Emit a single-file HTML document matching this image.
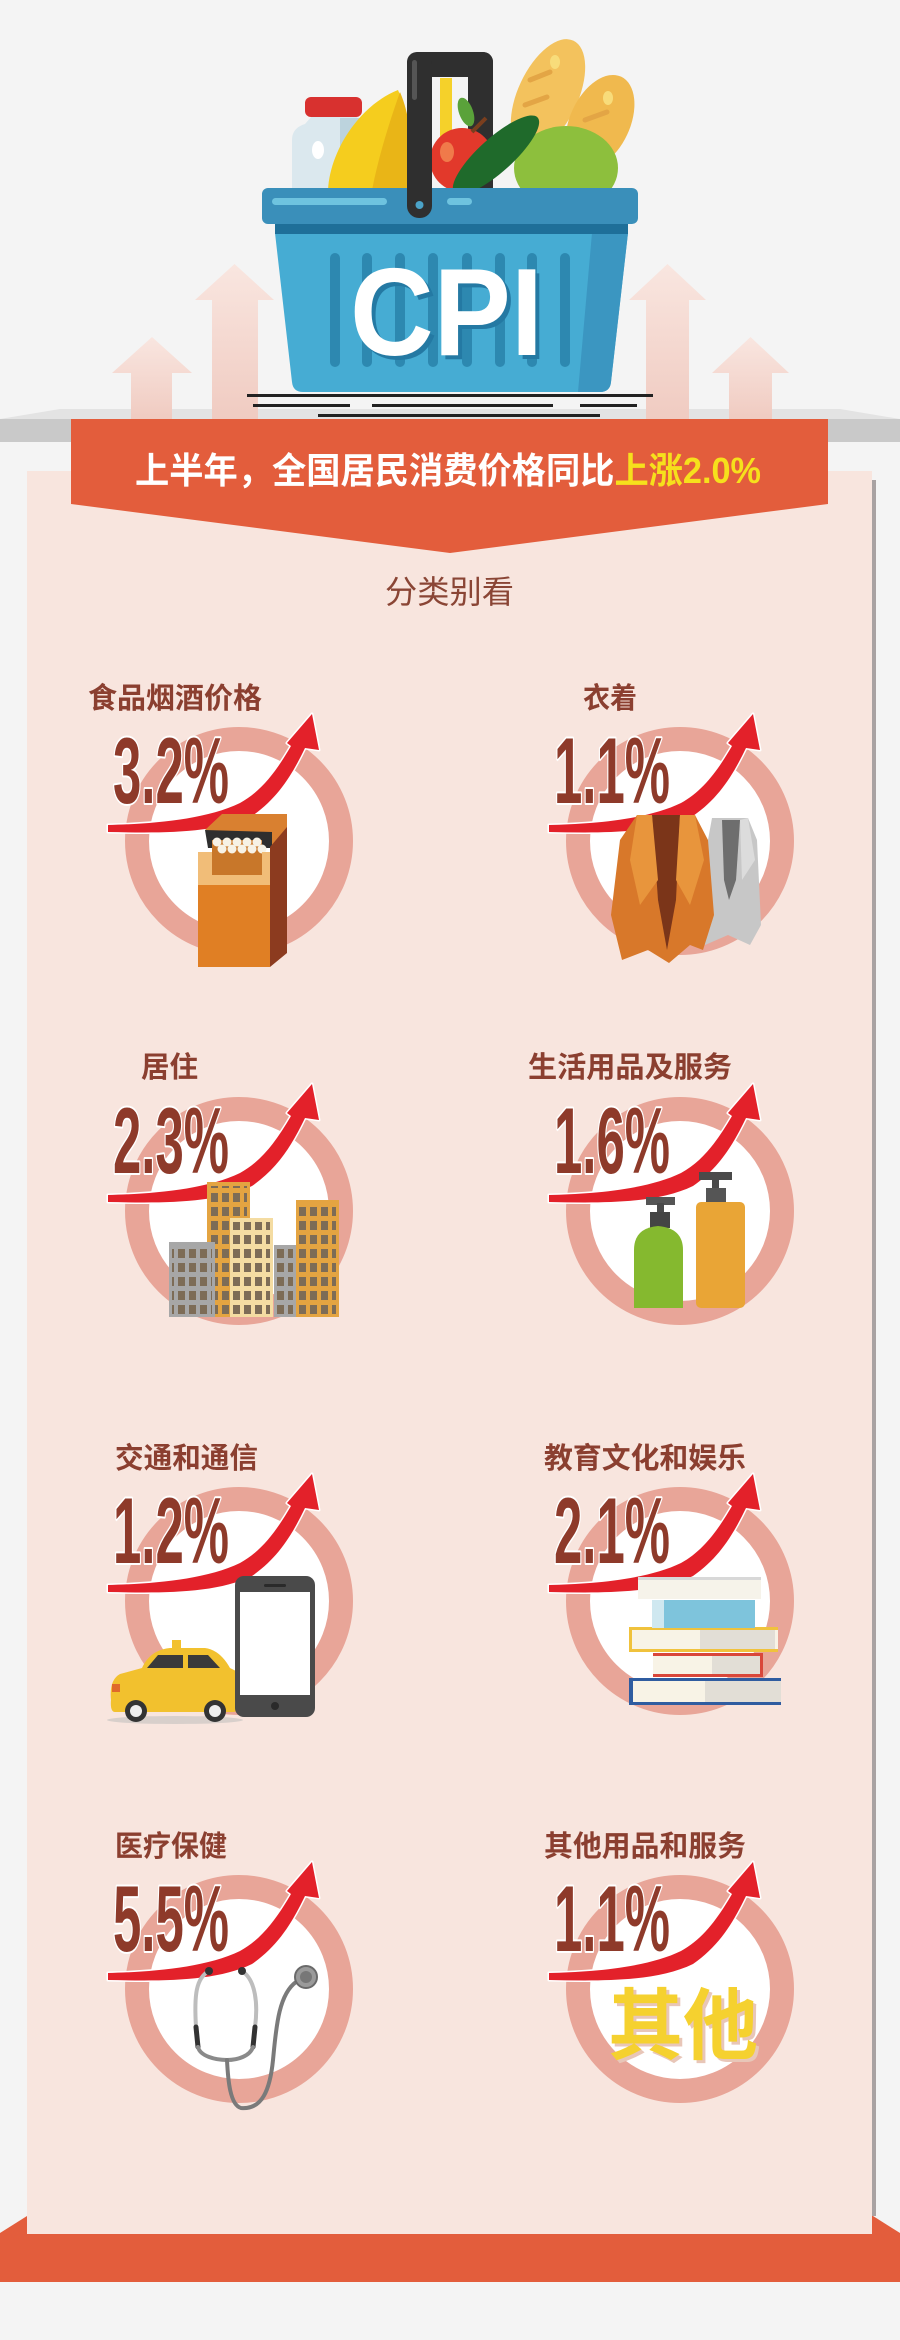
<!DOCTYPE html>
<html><head><meta charset="utf-8"><style>
html,body{margin:0;padding:0;background:#f4f4f4;}
svg{display:block;}
text{font-family:"Liberation Sans","Noto Sans CJK SC",sans-serif;}
</style></head><body>
<svg width="900" height="2340" viewBox="0 0 900 2340" xmlns="http://www.w3.org/2000/svg">
<defs>
<linearGradient id="pa" x1="0" y1="0" x2="0" y2="1"><stop offset="0" stop-color="#f9e6e0"/><stop offset="1" stop-color="#f0cbc1"/></linearGradient>
<pattern id="win" width="11" height="14" patternUnits="userSpaceOnUse"><rect x="2" y="3" width="7" height="9" fill="#7d6c56"/></pattern>
</defs>
<rect width="900" height="2340" fill="#f4f4f4"/>

<!-- tabletop + pale arrows -->
<polygon points="0,419 60,409 840,409 900,419" fill="#e3e3e3"/>
<g fill="url(#pa)">
<polygon points="131,419 131,373 112,373 152,337 192,373 172,373 172,419"/>
<polygon points="212,419 212,300 195,300 234.5,264 274,300 258,300 258,419"/>
<polygon points="646,419 646,300 629,300 667.5,264 706,300 689,300 689,419"/>
<polygon points="729,419 729,373 712,373 750.5,337 789,373 772,373 772,419"/>
</g>

<!-- basket: back items -->
<rect x="407" y="52" width="86" height="25" rx="10" fill="#2f2f2f"/>
<rect x="468" y="52" width="25" height="150" rx="10" fill="#2f2f2f"/>
<rect x="440" y="78" width="12" height="60" fill="#f5d12a"/>
<ellipse cx="548" cy="95" rx="30" ry="60" transform="rotate(25 548 95)" fill="#f3c25d"/>
<ellipse cx="600" cy="122" rx="30" ry="50" transform="rotate(25 600 122)" fill="#f0b94e"/>
<ellipse cx="555" cy="62" rx="5" ry="7" fill="#f8dc7a"/>
<ellipse cx="608" cy="98" rx="5" ry="7" fill="#f8dc7a"/>
<path d="M530,80 l20,-8 M525,105 l22,-8 M585,120 l22,-8" stroke="#e3a545" stroke-width="5" stroke-linecap="round"/>
<ellipse cx="566" cy="168" rx="52" ry="42" fill="#8dbf3d"/>
<path d="M292,190 V140 Q292,128 305,124 L312,116 H356 L362,124 V190 Z" fill="#dbe8ee"/>
<rect x="340" y="118" width="22" height="72" fill="#bcd3dd"/>
<ellipse cx="318" cy="150" rx="6" ry="9" fill="#ffffff"/>
<rect x="305" y="97" width="57" height="20" rx="6" fill="#d8312f"/>
<path d="M328,190 C330,150 360,105 398,90 C405,105 408,140 405,190 Z" fill="#f5cd1e"/>
<path d="M372,190 C380,150 392,115 400,92 C412,120 414,160 410,190 Z" fill="#e9b517"/>
<circle cx="462" cy="160" r="32" fill="#e2392b"/>
<ellipse cx="447" cy="152" rx="7" ry="10" fill="#f07a4a"/>
<ellipse cx="466" cy="112" rx="7" ry="15" transform="rotate(-20 466 112)" fill="#5aa23a"/>
<line x1="472" y1="132" x2="486" y2="118" stroke="#7a3e1e" stroke-width="4"/>
<ellipse cx="496" cy="155" rx="17" ry="56" transform="rotate(48 496 155)" fill="#1f6a2b"/>

<!-- basket body -->
<path d="M275,233 L628,233 L611,382 Q610,392 600,392 L303,392 Q293,392 292,382 Z" fill="#46acd3"/>
<path d="M592,233 L628,233 L611,382 Q610,392 600,392 L578,392 Z" fill="#3b96c1"/>
<rect x="275" y="222" width="353" height="12" fill="#1e6f99"/>
<g fill="#2d88b0">
<rect x="330" y="253" width="10" height="114" rx="5"/>
<rect x="362" y="253" width="10" height="114" rx="5"/>
<rect x="395" y="253" width="10" height="114" rx="5"/>
<rect x="428" y="253" width="10" height="114" rx="5"/>
<rect x="462" y="253" width="10" height="114" rx="5"/>
<rect x="495" y="253" width="10" height="114" rx="5"/>
<rect x="527" y="253" width="10" height="114" rx="5"/>
<rect x="560" y="253" width="10" height="114" rx="5"/>
</g>
<rect x="262" y="188" width="376" height="36" rx="6" fill="#3a8fba"/>
<rect x="272" y="198" width="115" height="7" rx="3.5" fill="#6ec3df"/>
<rect x="447" y="198" width="25" height="7" rx="3.5" fill="#6ec3df"/>
<rect x="407" y="52" width="25" height="166" rx="12" fill="#2f2f2f"/>
<rect x="412" y="60" width="5" height="40" rx="2.5" fill="#555"/>
<circle cx="419.5" cy="205" r="4" fill="#4ba3c8"/>
<text x="354" y="359" font-size="124" font-weight="bold" fill="#2479a3" textLength="193" lengthAdjust="spacingAndGlyphs">CPI</text>
<text x="350" y="355" font-size="124" font-weight="bold" fill="#ffffff" textLength="193" lengthAdjust="spacingAndGlyphs">CPI</text>
<g fill="#222">
<rect x="247" y="394" width="406" height="3"/>
<rect x="253" y="404" width="97" height="3"/>
<rect x="372" y="404" width="181" height="3"/>
<rect x="580" y="404" width="57" height="3"/>
<rect x="318" y="414" width="282" height="3"/>
</g>

<!-- gray band -->
<rect x="0" y="419" width="900" height="23" fill="#c9c9c9"/>

<!-- bottom orange bar -->
<polygon points="0,2233 27,2216 873,2216 900,2233 900,2282 0,2282" fill="#e35d3c"/>
<!-- pink panel -->
<rect x="27" y="471" width="845" height="1763" fill="#f8e5de"/>
<rect x="872" y="480" width="4" height="1736" fill="#a9a2a2"/>

<!-- banner -->
<polygon points="71,419 828,419 828,504 450,553 71,504" fill="#e35d3c"/>
<text x="135" y="483" font-size="36" font-weight="bold" fill="#ffffff" textLength="626" lengthAdjust="spacingAndGlyphs">上半年，全国居民消费价格同比<tspan fill="#f6e01c">上涨2.0%</tspan></text>

<text x="385" y="603" font-size="32" fill="#8a4535" textLength="129" lengthAdjust="spacingAndGlyphs">分类别看</text>

<!-- labels -->
<g font-size="29" font-weight="bold" fill="#8b3f30">
<text x="88" y="708" textLength="174" lengthAdjust="spacingAndGlyphs">食品烟酒价格</text>
<text x="583" y="708" textLength="54" lengthAdjust="spacingAndGlyphs">衣着</text>
<text x="141" y="1077" textLength="57" lengthAdjust="spacingAndGlyphs">居住</text>
<text x="528" y="1077" textLength="204" lengthAdjust="spacingAndGlyphs">生活用品及服务</text>
<text x="115" y="1468" textLength="143" lengthAdjust="spacingAndGlyphs">交通和通信</text>
<text x="544" y="1468" textLength="202" lengthAdjust="spacingAndGlyphs">教育文化和娱乐</text>
<text x="115" y="1856" textLength="112" lengthAdjust="spacingAndGlyphs">医疗保健</text>
<text x="544" y="1856" textLength="202" lengthAdjust="spacingAndGlyphs">其他用品和服务</text>
</g>

<!-- ===== cells: ring + arrow + percent ===== -->
<!-- row 1 -->
<g transform="translate(0,0)">
<circle cx="239" cy="841" r="102" fill="#ffffff" stroke="#e8a598" stroke-width="24"/>
<path d="M108,825 C150,824 205,820 240,803 C262,791 277,770 291,746 L287,743 L312,714 L319,750 L305,748 C292,775 278,798 252,816 C215,834 160,833 108,832 Z" fill="#e3212a" stroke="#fff" stroke-width="3" stroke-linejoin="round" paint-order="stroke"/>
</g>
<g transform="translate(441,0)">
<circle cx="239" cy="841" r="102" fill="#ffffff" stroke="#e8a598" stroke-width="24"/>
<path d="M108,825 C150,824 205,820 240,803 C262,791 277,770 291,746 L287,743 L312,714 L319,750 L305,748 C292,775 278,798 252,816 C215,834 160,833 108,832 Z" fill="#e3212a" stroke="#fff" stroke-width="3" stroke-linejoin="round" paint-order="stroke"/>
</g>
<!-- row 2 -->
<g transform="translate(0,370)">
<circle cx="239" cy="841" r="102" fill="#ffffff" stroke="#e8a598" stroke-width="24"/>
<path d="M108,825 C150,824 205,820 240,803 C262,791 277,770 291,746 L287,743 L312,714 L319,750 L305,748 C292,775 278,798 252,816 C215,834 160,833 108,832 Z" fill="#e3212a" stroke="#fff" stroke-width="3" stroke-linejoin="round" paint-order="stroke"/>
</g>
<g transform="translate(441,370)">
<circle cx="239" cy="841" r="102" fill="#ffffff" stroke="#e8a598" stroke-width="24"/>
<path d="M108,825 C150,824 205,820 240,803 C262,791 277,770 291,746 L287,743 L312,714 L319,750 L305,748 C292,775 278,798 252,816 C215,834 160,833 108,832 Z" fill="#e3212a" stroke="#fff" stroke-width="3" stroke-linejoin="round" paint-order="stroke"/>
</g>
<!-- row 3 -->
<g transform="translate(0,760)">
<circle cx="239" cy="841" r="102" fill="#ffffff" stroke="#e8a598" stroke-width="24"/>
<path d="M108,825 C150,824 205,820 240,803 C262,791 277,770 291,746 L287,743 L312,714 L319,750 L305,748 C292,775 278,798 252,816 C215,834 160,833 108,832 Z" fill="#e3212a" stroke="#fff" stroke-width="3" stroke-linejoin="round" paint-order="stroke"/>
</g>
<g transform="translate(441,760)">
<circle cx="239" cy="841" r="102" fill="#ffffff" stroke="#e8a598" stroke-width="24"/>
<path d="M108,825 C150,824 205,820 240,803 C262,791 277,770 291,746 L287,743 L312,714 L319,750 L305,748 C292,775 278,798 252,816 C215,834 160,833 108,832 Z" fill="#e3212a" stroke="#fff" stroke-width="3" stroke-linejoin="round" paint-order="stroke"/>
</g>
<!-- row 4 -->
<g transform="translate(0,1148)">
<circle cx="239" cy="841" r="102" fill="#ffffff" stroke="#e8a598" stroke-width="24"/>
<path d="M108,825 C150,824 205,820 240,803 C262,791 277,770 291,746 L287,743 L312,714 L319,750 L305,748 C292,775 278,798 252,816 C215,834 160,833 108,832 Z" fill="#e3212a" stroke="#fff" stroke-width="3" stroke-linejoin="round" paint-order="stroke"/>
</g>
<g transform="translate(441,1148)">
<circle cx="239" cy="841" r="102" fill="#ffffff" stroke="#e8a598" stroke-width="24"/>
<path d="M108,825 C150,824 205,820 240,803 C262,791 277,770 291,746 L287,743 L312,714 L319,750 L305,748 C292,775 278,798 252,816 C215,834 160,833 108,832 Z" fill="#e3212a" stroke="#fff" stroke-width="3" stroke-linejoin="round" paint-order="stroke"/>
</g>

<!-- percentages -->
<g font-size="94" font-weight="bold" fill="#8e3a2a" stroke="#ffffff" stroke-width="4" paint-order="stroke" stroke-linejoin="round">
<text x="113" y="803" textLength="116" lengthAdjust="spacingAndGlyphs">3.2%</text>
<text x="554" y="803" textLength="116" lengthAdjust="spacingAndGlyphs">1.1%</text>
<text x="113" y="1173" textLength="116" lengthAdjust="spacingAndGlyphs">2.3%</text>
<text x="554" y="1173" textLength="116" lengthAdjust="spacingAndGlyphs">1.6%</text>
<text x="113" y="1563" textLength="116" lengthAdjust="spacingAndGlyphs">1.2%</text>
<text x="554" y="1563" textLength="116" lengthAdjust="spacingAndGlyphs">2.1%</text>
<text x="113" y="1951" textLength="116" lengthAdjust="spacingAndGlyphs">5.5%</text>
<text x="554" y="1951" textLength="116" lengthAdjust="spacingAndGlyphs">1.1%</text>
</g>

<!-- ===== icons ===== -->
<!-- cigarettes -->
<polygon points="205,830 222,814 287,814 287,832 272,846" fill="#d98030"/>
<polygon points="205,830 272,832 272,848 208,848" fill="#2e2e2e"/>
<g fill="#c8772a"><rect x="212" y="840" width="50" height="35"/></g>
<g fill="#f7f2e6">
<circle cx="217" cy="842" r="4.5"/><circle cx="227" cy="842" r="4.5"/><circle cx="237" cy="842" r="4.5"/><circle cx="247" cy="842" r="4.5"/><circle cx="257" cy="842" r="4.5"/>
<circle cx="222" cy="849" r="4.5"/><circle cx="232" cy="849" r="4.5"/><circle cx="242" cy="849" r="4.5"/><circle cx="252" cy="849" r="4.5"/><circle cx="262" cy="849" r="4.5"/>
</g>
<polygon points="270,847 287,827 287,953 270,967" fill="#8c3b1f"/>
<path d="M198,852 H212 V875 H262 V852 H270 V885 H198 Z" fill="#f1bd78"/>
<rect x="198" y="885" width="72" height="82" fill="#e07f24"/>

<!-- coats -->
<polygon points="712,818 748,818 757,840 761,925 750,945 728,935 705,945 697,900" fill="#c7c7c7"/>
<polygon points="722,820 740,820 736,880 729,900 724,880" fill="#6e6e6e"/>
<polygon points="740,820 748,818 755,860 742,880" fill="#dcdcdc"/>
<polygon points="637,815 695,815 708,840 714,915 703,950 690,945 669,963 648,950 622,960 611,915 620,840" fill="#d8782a"/>
<polygon points="652,815 680,815 676,900 667,950 658,900" fill="#7b3519"/>
<polygon points="637,815 652,815 658,880 640,905 630,860" fill="#e8953c"/>
<polygon points="680,815 695,815 704,860 690,905 676,880" fill="#e8953c"/>

<!-- buildings -->
<rect x="207" y="1182" width="43" height="135" fill="#e4a441"/>
<rect x="210" y="1186" width="37" height="128" fill="url(#win)"/>
<rect x="296" y="1200" width="43" height="117" fill="#e4a441"/>
<rect x="299" y="1204" width="37" height="110" fill="url(#win)"/>
<rect x="169" y="1242" width="46" height="75" fill="#a7a7a7"/>
<rect x="172" y="1246" width="40" height="68" fill="url(#win)"/>
<rect x="230" y="1218" width="43" height="99" fill="#f4dca2"/>
<rect x="233" y="1222" width="37" height="92" fill="url(#win)"/>
<rect x="274" y="1245" width="22" height="72" fill="#a7a7a7"/>
<rect x="277" y="1249" width="16" height="65" fill="url(#win)"/>

<!-- bottles -->
<rect x="699" y="1172" width="33" height="8" fill="#4a4a4a"/>
<rect x="712" y="1178" width="7" height="12" fill="#4a4a4a"/>
<rect x="706" y="1188" width="20" height="15" fill="#555"/>
<rect x="696" y="1202" width="49" height="106" rx="5" fill="#e9a536"/>
<rect x="646" y="1197" width="29" height="8" fill="#555"/>
<rect x="657" y="1203" width="7" height="11" fill="#4a4a4a"/>
<rect x="650" y="1212" width="20" height="16" fill="#444"/>
<path d="M634,1308 V1250 Q634,1228 658,1226 Q683,1228 683,1250 V1308 Z" fill="#85b92f"/>

<!-- taxi -->
<ellipse cx="175" cy="1720" rx="68" ry="4" fill="#d8cfcb"/>
<path d="M111,1700 Q109,1680 120,1674 L142,1668 Q150,1650 170,1648 L205,1648 Q220,1650 230,1668 L240,1673 V1705 Q240,1712 232,1712 H115 Q110,1712 111,1700 Z" fill="#f2c12e"/>
<rect x="172" y="1640" width="9" height="9" fill="#f2c12e"/>
<polygon points="147,1668 158,1655 183,1655 183,1668" fill="#3a3a3a"/>
<polygon points="188,1655 208,1655 220,1668 188,1668" fill="#3a3a3a"/>
<rect x="112" y="1684" width="8" height="8" fill="#e06a2a"/>
<circle cx="136" cy="1711" r="11" fill="#333"/><circle cx="136" cy="1711" r="6" fill="#eee"/>
<circle cx="215" cy="1711" r="11" fill="#333"/><circle cx="215" cy="1711" r="6" fill="#eee"/>
<!-- phone -->
<rect x="235" y="1576" width="80" height="141" rx="9" fill="#4a4a4a"/>
<rect x="240" y="1592" width="70" height="103" fill="#ffffff"/>
<rect x="264" y="1584" width="22" height="3" rx="1.5" fill="#2a2a2a"/>
<circle cx="275" cy="1706" r="4" fill="#2a2a2a"/>

<!-- books -->
<rect x="629" y="1678" width="152" height="27" fill="#f8f3e6"/>
<rect x="705" y="1681" width="76" height="21" fill="#e2ded6"/>
<rect x="629" y="1678" width="152" height="3" fill="#2f5ca0"/>
<rect x="629" y="1702" width="152" height="3" fill="#2f5ca0"/>
<rect x="629" y="1678" width="4" height="27" fill="#2f5ca0"/>
<rect x="653" y="1653" width="110" height="24" fill="#f8f3e6"/>
<rect x="712" y="1656" width="48" height="18" fill="#e2ded6"/>
<rect x="653" y="1653" width="110" height="3" fill="#d9473a"/>
<rect x="653" y="1674" width="110" height="3" fill="#d9473a"/>
<rect x="760" y="1653" width="3" height="24" fill="#d9473a"/>
<rect x="629" y="1627" width="149" height="25" fill="#f8f3e6"/>
<rect x="700" y="1630" width="75" height="19" fill="#e2ded6"/>
<rect x="629" y="1627" width="149" height="3" fill="#f0c23c"/>
<rect x="629" y="1649" width="149" height="3" fill="#f0c23c"/>
<rect x="629" y="1627" width="3" height="25" fill="#f0c23c"/>
<rect x="652" y="1600" width="103" height="28" fill="#7ec4dc"/>
<rect x="652" y="1600" width="12" height="28" fill="#cfe8f0"/>
<rect x="638" y="1577" width="123" height="22" fill="#f6f3ea"/>
<rect x="638" y="1577" width="123" height="3" fill="#d8d8d8"/>

<!-- stethoscope -->
<g fill="none" stroke-linecap="round">
<path d="M209,1971 C196,1978 194,1995 196,2027" stroke="#bdbdbd" stroke-width="4"/>
<path d="M242,1971 C256,1980 258,2005 255,2027" stroke="#bdbdbd" stroke-width="4"/>
<path d="M196,2027 L198,2047" stroke="#333" stroke-width="5"/>
<path d="M255,2027 L253,2047" stroke="#333" stroke-width="5"/>
<path d="M198,2047 C200,2056 215,2060 227,2060 C238,2060 250,2056 253,2047" stroke="#8a8a8a" stroke-width="4"/>
<path d="M227,2060 C228,2080 230,2105 241,2108 C262,2110 270,2090 273,2060 C276,2030 278,1995 296,1982" stroke="#7a7a7a" stroke-width="4"/>
</g>
<circle cx="209" cy="1971" r="4" fill="#333"/>
<circle cx="242" cy="1971" r="4" fill="#333"/>
<circle cx="306" cy="1977" r="11" fill="#9a9a9a" stroke="#6a6a6a" stroke-width="2"/>
<circle cx="306" cy="1977" r="6" fill="#777"/>

<!-- 其他 -->
<text x="611" y="2056" font-size="78" font-weight="bold" fill="#e8c6b8" textLength="150" lengthAdjust="spacingAndGlyphs">其他</text>
<text x="608" y="2053" font-size="78" font-weight="bold" fill="#f5d12f" textLength="150" lengthAdjust="spacingAndGlyphs">其他</text>
</svg>
</body></html>
